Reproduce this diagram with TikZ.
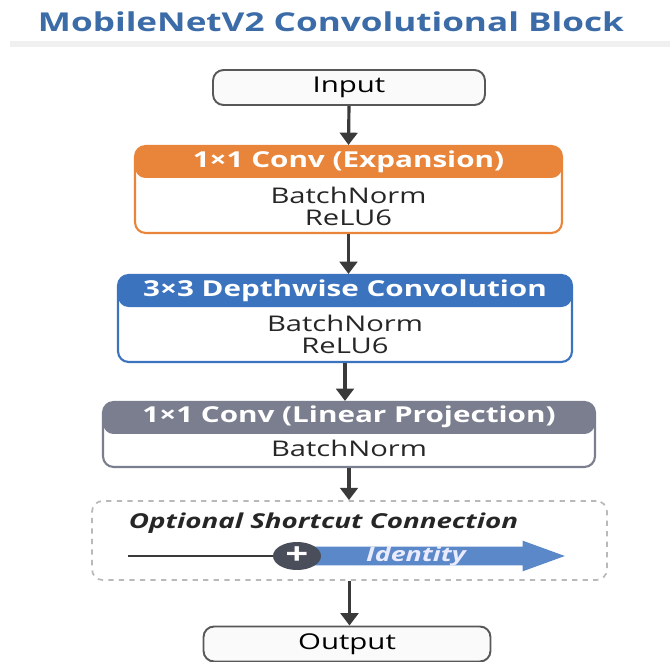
\documentclass[tikz,border=0pt]{standalone}
\usepackage{fontspec}
\setmainfont{Open Sans}[FakeStretch=1.35]
\usepackage{tikz}
\usetikzlibrary{positioning, arrows.meta, shapes.geometric, shapes.arrows}

\definecolor{titleblue}{HTML}{3C6CA8}
\definecolor{exporange}{HTML}{E9853A}
\definecolor{dwblue}{HTML}{3B73BF}
\definecolor{projgray}{HTML}{7A7E8E}
\definecolor{idblue}{HTML}{5A88C8}
\definecolor{plusgray}{HTML}{4A4E5A}
\definecolor{flowdark}{HTML}{3A3A3A}

\tikzset{
  ioterm/.style = {draw=flowdark!85, line width=1.1pt, rounded corners=6pt, fill=gray!4,
                   minimum height=0.7cm, font=\fontsize{12.4}{14}\selectfont},
  stage/.style = {draw=#1, line width=1.2pt, rounded corners=6pt, fill=white,
                  path picture={\fill[#1] (path picture bounding box.north west)
                     rectangle ([yshift=-0.64cm]path picture bounding box.east |- path picture bounding box.north);}},
  headtxt/.style = {text=white, font=\fontsize{12.5}{14}\selectfont\bfseries},
  bodytxt/.style = {text=black!85, align=center, font=\fontsize{12.3}{12.5}\selectfont},
  flow/.style = {flowdark, line width=1.8pt, -{Triangle[width=10pt,length=7pt]}}
}

\begin{document}
\begin{tikzpicture}[x=0.02cm, y=-0.02cm, every node/.style = {inner sep=0pt}]
  \useasboundingbox (0,0) rectangle (670,662);

  \node[text=titleblue, font=\fontsize{14.8}{18}\selectfont\bfseries] (title) at (331,22) {MobileNetV2 Convolutional Block};
  \fill[gray!12] (10,41) rectangle (670,47);

  \node[ioterm, minimum width=5.44cm] (inp) at (349,87.5) {Input};

  \node[stage=exporange, minimum width=8.54cm, minimum height=1.74cm] (exp) at (348.5,189.5) {};
  \node[headtxt] (exphead) at (348.5,162) {1×1 Conv (Expansion)};
  \node[bodytxt] (expbody) at (348.5,206) {BatchNorm\\ReLU6};

  \node[stage=dwblue, minimum width=9.08cm, minimum height=1.74cm] (dw) at (345,318.5) {};
  \node[headtxt] (dwhead) at (345,291) {3×3 Depthwise Convolution};
  \node[bodytxt] (dwbody) at (345,334.5) {BatchNorm\\ReLU6};

  \node[stage=projgray, minimum width=9.84cm, minimum height=1.3cm] (proj) at (349,434.5) {};
  \node[headtxt] (projhead) at (349,417) {1×1 Conv (Linear Projection)};
  \node[bodytxt] (projbody) at (349,448) {BatchNorm};

  \node[draw=gray!55, dashed, line width=1pt, rounded corners=6pt,
        minimum width=10.3cm, minimum height=1.58cm] (short) at (349.5,540.5) {};
  \node[text=black!85, font=\fontsize{11.7}{14}\selectfont\bfseries\itshape] (shorttxt) at (323.5,523) {Optional Shortcut Connection};
  \node[single arrow, fill=idblue, minimum height=5.2cm, minimum width=0pt,
        text height=0.36cm, text depth=0pt, text width=0pt,
        single arrow head extend=0.12cm, single arrow tip angle=40] (ident) at (422,556) {};
  \node[text=blue!8, font=\fontsize{11.3}{14}\selectfont\bfseries\itshape] (identtxt) at (416,556) {Identity};
  \node[ellipse, fill=plusgray, minimum width=0.96cm, minimum height=0.56cm,
        text=white, font=\fontsize{17}{17}\selectfont\bfseries] (plus) at (297,556) {+};
  \coordinate (src) at (128,556);
  \draw[flowdark, line width=1.1pt] (src) -- (plus.west);

  \node[ioterm, minimum width=5.74cm] (out) at (347,644) {Output};

  \draw[flow] (inp.south) -- (exp.north);
  \draw[flow] (exp.south) -- (exp.south |- dw.north);
  \draw[flow] (dw.south) -- (dw.south |- proj.north);
  \draw[flow] (proj.south) -- (proj.south |- short.north);
  \draw[flow] (short.south) -- (short.south |- out.north);
\end{tikzpicture}
\end{document}
